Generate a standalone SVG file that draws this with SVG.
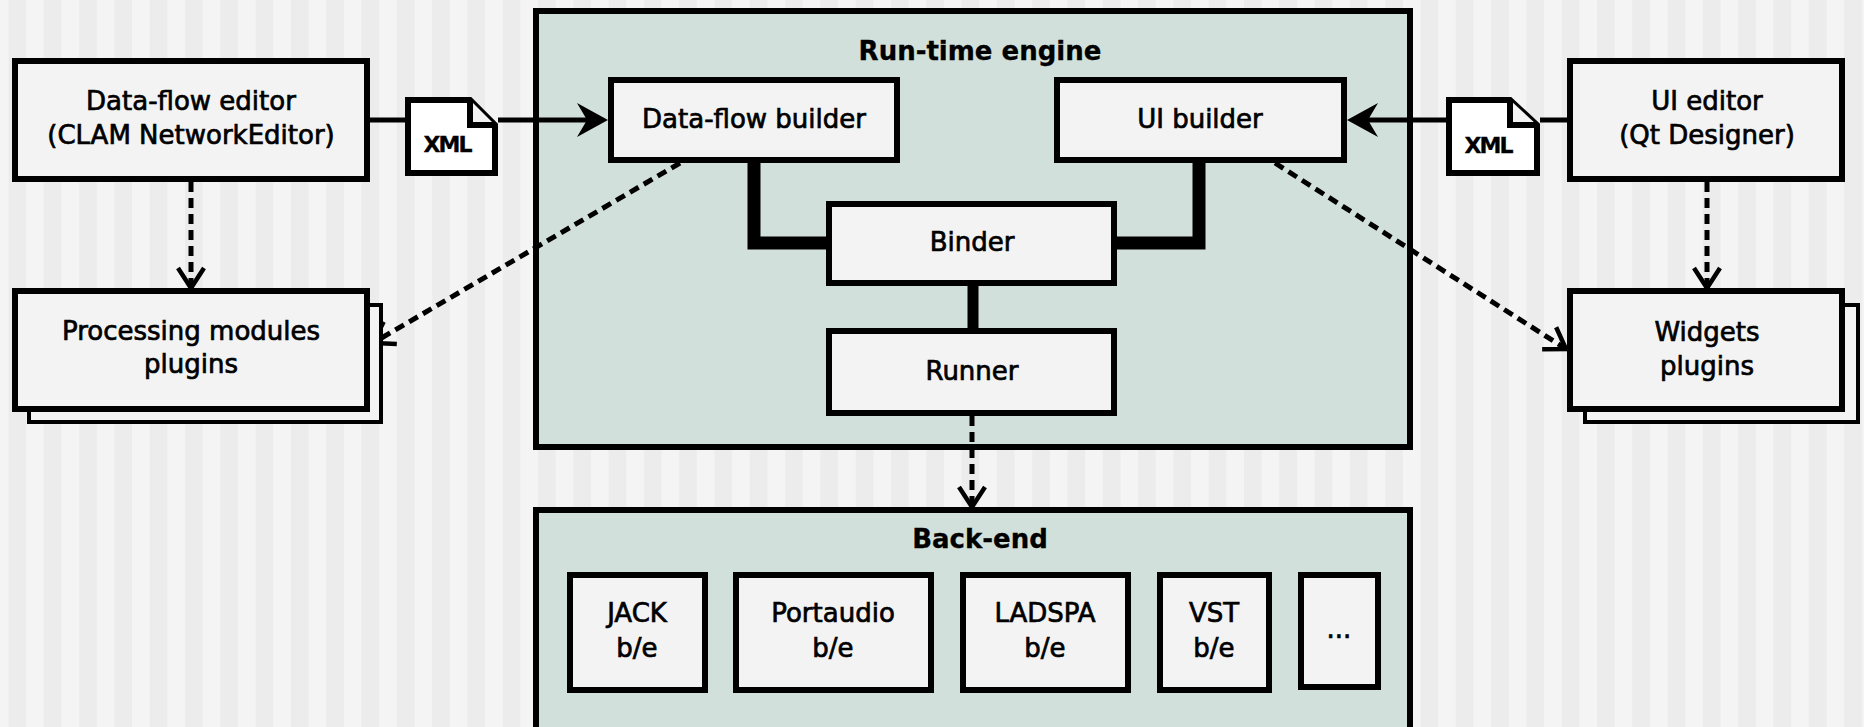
<svg xmlns="http://www.w3.org/2000/svg" width="1864" height="727" viewBox="0 0 1864 727">
<defs>
<pattern id="stripes" patternUnits="userSpaceOnUse" x="8.5" y="0" width="35.3" height="727">
<rect x="0" y="0" width="35.3" height="727" fill="#f4f4f4"/>
<rect x="0" y="0" width="17.6" height="727" fill="#ececec"/>
</pattern>
<marker id="arrow" markerUnits="userSpaceOnUse" orient="auto" overflow="visible" markerWidth="1" markerHeight="1" refX="0" refY="0">
<path d="M10,0 L-21,-17 L-11,0 L-21,17 Z" fill="#000"/>
</marker>
<marker id="open" markerUnits="userSpaceOnUse" orient="auto" overflow="visible" markerWidth="1" markerHeight="1" refX="0" refY="0">
<path d="M-20,-13 L0,0 L-20,13" fill="none" stroke="#000" stroke-width="4.5"/>
</marker>
</defs>
<style>
text{font-family:"DejaVu Sans","Liberation Sans",sans-serif;font-size:26px;fill:#000;stroke:#000;stroke-width:0.7px;text-anchor:middle}
.title{font-weight:bold;stroke-width:0.3px}
.xml{font-weight:bold;font-size:22px;letter-spacing:-2px;stroke-width:0.3px}
.box{fill:#f3f3f3;stroke:#000;stroke-width:6}
.shadow{fill:#f3f3f3;stroke:#000;stroke-width:4}
.container{fill:#d2e0dc;stroke:#000;stroke-width:6}
.doc{fill:#fff;stroke:#000;stroke-width:6;stroke-linejoin:miter}
.solid{fill:none;stroke:#000;stroke-width:5}
.thick{fill:none;stroke:#000;stroke-width:13}
.dash{fill:none;stroke:#000;stroke-width:5;stroke-dasharray:10 6}
</style>
<rect x="0" y="0" width="1864" height="727" fill="url(#stripes)"/>

<g id="runtime-engine">
<rect class="container" x="536" y="11" width="874" height="436"/>
<text class="title" x="980" y="60">Run-time engine</text>
</g>
<g id="back-end">
<rect class="container" x="536" y="510" width="874" height="240"/>
<text class="title" x="980" y="548">Back-end</text>
</g>

<g id="connectors">
<path class="solid" d="M370,120 H405"/>
<path class="solid" d="M498,120 H598" marker-end="url(#arrow)"/>
<path class="solid" d="M1567,120 H1540"/>
<path class="solid" d="M1446,120 H1357" marker-end="url(#arrow)"/>
<path class="thick" d="M754,163 V243 H826"/>
<path class="thick" d="M1199,163 V243 H1117"/>
<path class="solid" d="M973,286 V328" style="stroke-width:11"/>
<path class="dash" d="M191,182 V288" marker-end="url(#open)"/>
<path class="dash" d="M1707,182 V288" marker-end="url(#open)"/>
<path class="dash" d="M972,416 V507" marker-end="url(#open)"/>
<path class="dash" d="M680,163 L373,343" marker-end="url(#open)"/>
<path class="dash" d="M1275,163 L1566,349" marker-end="url(#open)"/>
</g>

<g id="dataflow-editor">
<rect class="box" x="15" y="61" width="352" height="118"/>
<text x="191" y="110">Data-flow editor</text>
<text x="191" y="144">(CLAM NetworkEditor)</text>
</g>
<g id="xml-left">
<path class="doc" d="M408,100 H470 L495,125 V173 H408 Z"/>
<path class="doc" d="M470,100 V125 H495" style="fill:#f3f3f3"/>
<text class="xml" x="447" y="152">XML</text>
</g>
<g id="processing-modules">
<rect class="shadow" x="29" y="305" width="352" height="117"/>
<rect class="box" x="15" y="291" width="352" height="118"/>
<text x="191" y="340">Processing modules</text>
<text x="191" y="373">plugins</text>
</g>
<g id="dataflow-builder">
<rect class="box" x="611" y="80" width="286" height="80"/>
<text x="754" y="128">Data-flow builder</text>
</g>
<g id="ui-builder">
<rect class="box" x="1057" y="80" width="287" height="80"/>
<text x="1200" y="128">UI builder</text>
</g>
<g id="binder">
<rect class="box" x="829" y="204" width="285" height="79"/>
<text x="972" y="251">Binder</text>
</g>
<g id="runner">
<rect class="box" x="829" y="331" width="285" height="82"/>
<text x="972" y="380">Runner</text>
</g>
<g id="ui-editor">
<rect class="box" x="1570" y="61" width="272" height="118"/>
<text x="1707" y="110">UI editor</text>
<text x="1707" y="144">(Qt Designer)</text>
</g>
<g id="xml-right">
<path class="doc" d="M1449,100 H1510 L1537,125 V173 H1449 Z"/>
<path class="doc" d="M1510,100 V125 H1537" style="fill:#f3f3f3"/>
<text class="xml" x="1488" y="153">XML</text>
</g>
<g id="widgets-plugins">
<rect class="shadow" x="1585" y="305" width="273" height="117"/>
<rect class="box" x="1570" y="291" width="272" height="118"/>
<text x="1707" y="341">Widgets</text>
<text x="1707" y="375">plugins</text>
</g>
<g id="jack">
<rect class="box" x="570" y="575" width="135" height="115"/>
<text x="637" y="622">JACK</text>
<text x="637" y="657">b/e</text>
</g>
<g id="portaudio">
<rect class="box" x="736" y="575" width="195" height="115"/>
<text x="833" y="622">Portaudio</text>
<text x="833" y="657">b/e</text>
</g>
<g id="ladspa">
<rect class="box" x="963" y="575" width="165" height="115"/>
<text x="1045" y="622">LADSPA</text>
<text x="1045" y="657">b/e</text>
</g>
<g id="vst">
<rect class="box" x="1160" y="575" width="109" height="115"/>
<text x="1214" y="622">VST</text>
<text x="1214" y="657">b/e</text>
</g>
<g id="more">
<rect class="box" x="1301" y="575" width="77" height="112"/>
<text x="1339" y="638">...</text>
</g>
</svg>
